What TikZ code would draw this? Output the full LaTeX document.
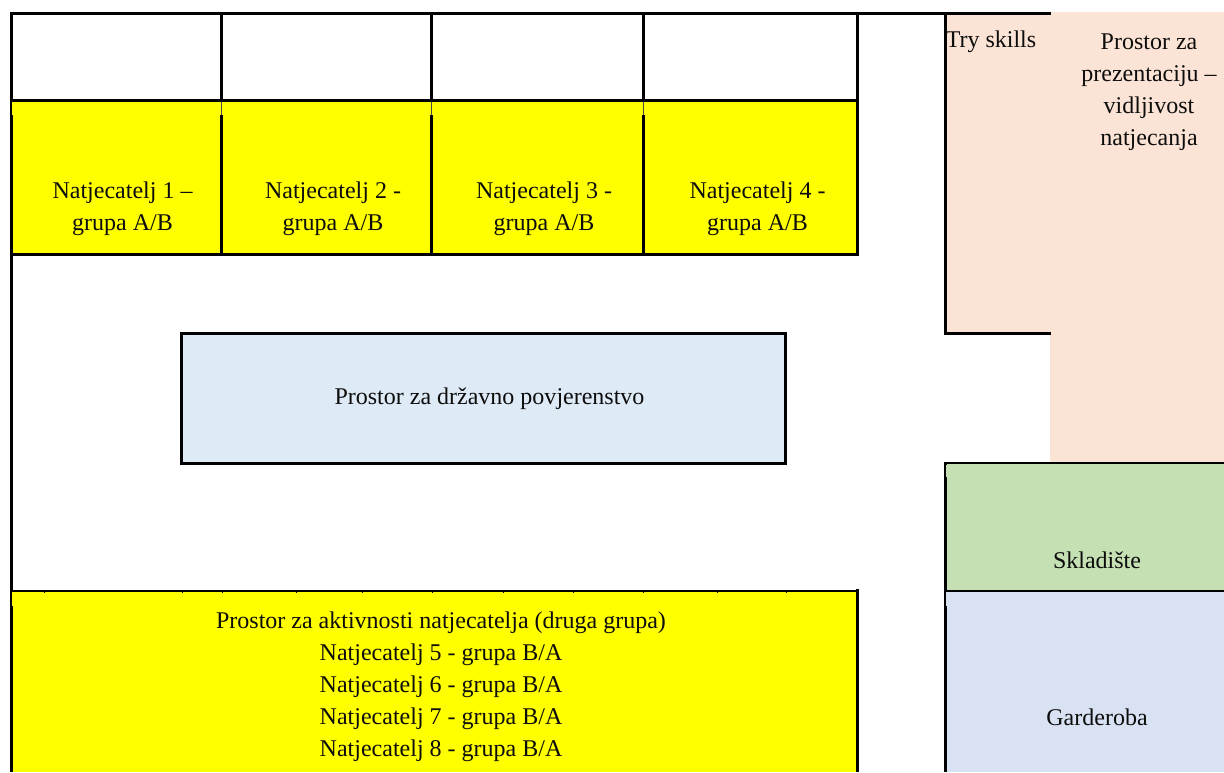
\documentclass[tikz,border=0pt]{standalone}
\usepackage{fontspec}
\setmainfont{Liberation Serif}
\definecolor{peach}{HTML}{FBE4D5}
\definecolor{sage}{HTML}{C5E0B3}
\definecolor{paleblue}{HTML}{D9E2F3}
\definecolor{iceblue}{HTML}{DEEAF6}
\definecolor{comp}{HTML}{FFFF00}
\tikzset{
  wall/.style={line width=2.25pt,black},
  thinwall/.style={line width=1.5pt,black},
  seam/.style={line width=0.4pt,black!70},
  lab/.style={align=center,inner sep=0pt,font=\fontsize{18}{24}\selectfont,text=black!95},
}
\begin{document}
\begin{tikzpicture}[x=0.75pt,y=-0.75pt]
\useasboundingbox (0,0) rectangle (1224,772);
% fills
\fill[peach] (946,12) rectangle (1224,333);
\fill[peach] (1050,333) rectangle (1224,463);
\fill[comp] (12,100) rectangle (858,254);
\fill[comp] (12,591) rectangle (858,772);
\fill[sage] (946,463) rectangle (1224,591);
\fill[paleblue] (946,591) rectangle (1224,772);
% walls
\draw[wall] (10,13.5) -- (1051,13.5);
\draw[wall] (11.5,12) -- (11.5,772);
\draw[wall] (221.5,14) -- (221.5,254);
\draw[wall] (431.5,14) -- (431.5,254);
\draw[wall] (643.5,14) -- (643.5,254);
\draw[wall] (857.5,14) -- (857.5,254);
\draw[wall] (11.5,100.5) -- (859,100.5);
\draw[wall] (10,254.5) -- (859,254.5);
\draw[thinwall] (12,591) -- (858,591);
\draw[wall] (857.5,589) -- (857.5,772);
\draw[wall] (945.5,12) -- (945.5,335);
\draw[wall] (944,333.5) -- (1051,333.5);
\draw[wall] (945.5,462) -- (945.5,772);
\draw[thinwall] (944,463) -- (1224,463);
\draw[thinwall] (944,591) -- (1224,591);
% overlaps of the fills on the walls
\fill[comp] (12,102) rectangle (13,115);
\fill[comp] (220,102) rectangle (223,115);
\fill[comp] (430,102) rectangle (433,115);
\fill[comp] (642,102) rectangle (645,115);
\draw[seam] (221,102) -- (221,115);
\draw[seam] (431,102) -- (431,115);
\draw[seam] (643,102) -- (643,115);
\fill[comp] (12,592) rectangle (13,606);
\fill[sage] (946,465) rectangle (947,477);
\fill[paleblue] (946,592) rectangle (947,606);
% small marks under the yellow top edge
\foreach \tx in {44,182,222,296.5,362,432,503.5,573.5,643.5,717.5,786}
  \fill[black] (\tx-0.5,591) rectangle (\tx+0.5,593);
% committee box
\node[draw=black,line width=2.25pt,fill=iceblue,minimum width=453pt,minimum height=97.5pt,inner sep=0pt] (kom) at (483.5,398.5) {};
% labels
\node[lab] (p1) at (122.5,209) {Natjecatelj 1 –\\grupa A/B};
\node[lab] (p2) at (333,209) {Natjecatelj 2 -\\grupa A/B};
\node[lab] (p3) at (544,209) {Natjecatelj 3 -\\grupa A/B};
\node[lab] (p4) at (757.5,209) {Natjecatelj 4 -\\grupa A/B};
\node[lab] (pov) at (489.5,399) {Prostor za državno povjerenstvo};
\node[lab] (akt) at (441,686.5) {Prostor za aktivnosti natjecatelja (druga grupa)\\Natjecatelj 5 - grupa B/A\\Natjecatelj 6 - grupa B/A\\Natjecatelj 7 - grupa B/A\\Natjecatelj 8 - grupa B/A};
\node[lab] (try) at (991,41.5) {Try skills};
\node[lab] (pre) at (1149,92) {Prostor za\\prezentaciju –\\vidljivost\\natjecanja};
\node[lab] (skl) at (1097,560) {Skladište};
\node[lab] (gar) at (1097,717) {Garderoba};
\end{tikzpicture}
\end{document}
